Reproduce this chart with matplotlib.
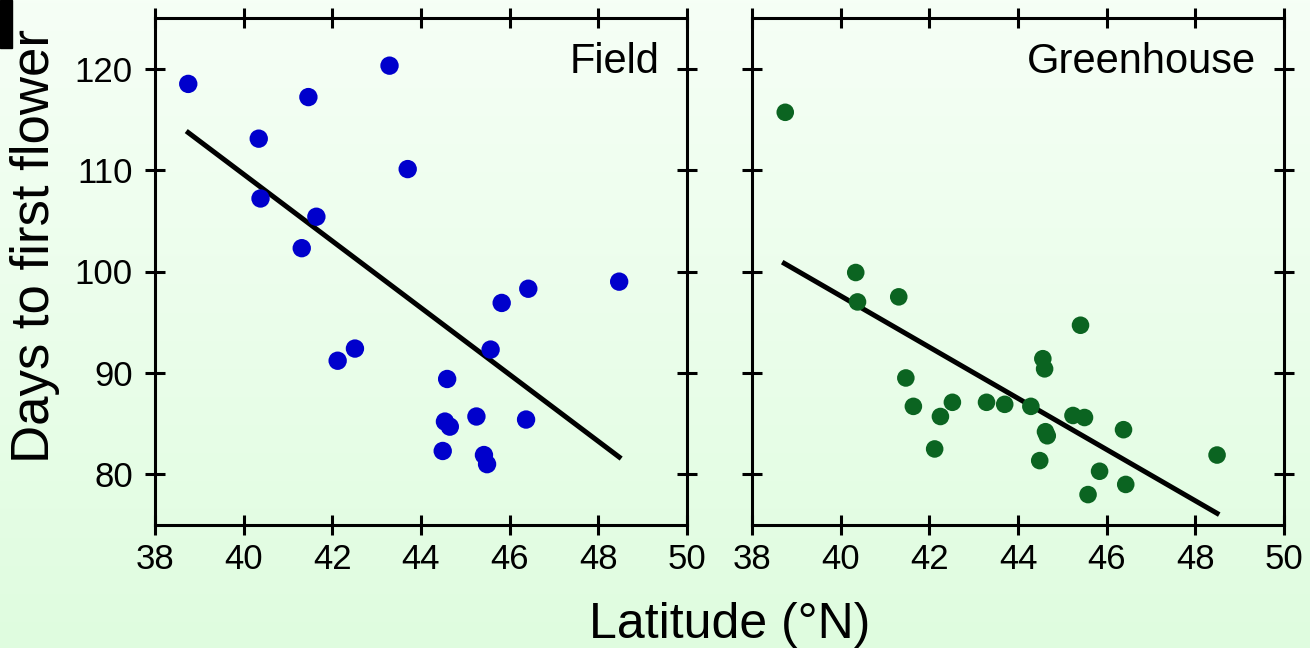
import numpy as np
import matplotlib.pyplot as plt
from matplotlib.patches import Rectangle

plt.rcParams['font.family'] = ['Liberation Sans', 'DejaVu Sans']

# values
field_lat = [38.75, 41.46, 43.29, 40.34, 43.70, 40.38, 41.64, 41.31, 46.42, 48.47, 45.82,
             42.51, 42.12, 45.57, 44.59, 44.54, 44.65, 45.25, 46.37, 44.49, 45.42, 45.49]
field_days = [118.5, 117.2, 120.3, 113.1, 110.1, 107.2, 105.4, 102.3, 98.3, 99.0, 96.9,
              92.4, 91.2, 92.3, 89.4, 85.2, 84.7, 85.7, 85.4, 82.3, 81.9, 81.0]
field_fit_lat = [38.75, 48.47]
field_fit_days = [113.7, 81.7]

gh_lat = [38.75, 40.34, 40.38, 41.31, 45.41, 44.56, 44.60, 41.47, 41.64, 42.52, 42.25, 43.29,
          43.70, 44.29, 45.24, 45.50, 44.62, 44.66, 46.38, 42.12, 44.49, 45.84, 46.43, 45.58, 48.49]
gh_days = [115.7, 99.9, 97.0, 97.5, 94.7, 91.4, 90.4, 89.5, 86.7, 87.1, 85.7, 87.1,
           86.9, 86.7, 85.8, 85.6, 84.2, 83.8, 84.4, 82.5, 81.35, 80.3, 79.0, 78.0, 81.9]
gh_fit_lat = [38.73, 48.49]
gh_fit_days = [100.8, 76.15]

xticks = [38, 40, 42, 44, 46, 48, 50]
yticks = [80, 90, 100, 110, 120]

fig = plt.figure(figsize=(13.1, 6.48), dpi=100)

# light green gradient background
bg = fig.add_axes([0, 0, 1, 1], zorder=-10)
t = np.linspace(0, 1, 256)[:, None, None]
top = np.array([0.965, 1.0, 0.965])
bottom = np.array([0.875, 0.99, 0.875])
bg.imshow(top + (bottom - top) * t, aspect='auto', extent=[0, 1, 0, 1])
bg.axis('off')
fig.patches.append(Rectangle((0, 1 - 48 / 648), 12 / 1310, 48 / 648,
                             transform=fig.transFigure, color='black', zorder=5))

ax1 = fig.add_axes([155 / 1310, 1 - 525 / 648, 532 / 1310, 507 / 648])
ax2 = fig.add_axes([752 / 1310, 1 - 525 / 648, 532 / 1310, 507 / 648])

panels = [(ax1, field_lat, field_days, field_fit_lat, field_fit_days, '#0000CC', 'Field', 175),
          (ax2, gh_lat, gh_days, gh_fit_lat, gh_fit_days, '#0B6421', 'Greenhouse', 160)]

for ax, x, y, fx, fy, col, name, size in panels:
    ax.set_facecolor('none')
    ax.scatter(x, y, s=size, color=col, edgecolors='none', zorder=3)
    ax.plot(fx, fy, color='black', lw=3.6, zorder=2)
    ax.set_xlim(38, 50)
    ax.set_ylim(75, 125)
    ax.set_xticks(xticks)
    ax.set_yticks(yticks)
    ax.tick_params(direction='inout', length=14, width=2.2, top=True, right=True,
                   labelsize=25, pad=6)
    ax.tick_params(axis='y', pad=9)
    for s in ax.spines.values():
        s.set_linewidth(2.2)
    ax.text(0.948, 0.953, name, transform=ax.transAxes, ha='right', va='top', fontsize=30)

ax2.tick_params(labelleft=False)

fig.text(35 / 1310, 1 - 246 / 648, 'Days to first flower', rotation=90,
         ha='center', va='center', fontsize=38)
fig.text(730 / 1310, 1 - 625 / 648, 'Latitude (°N)', ha='center', va='center', fontsize=36)

plt.savefig('out.png', dpi=100)
